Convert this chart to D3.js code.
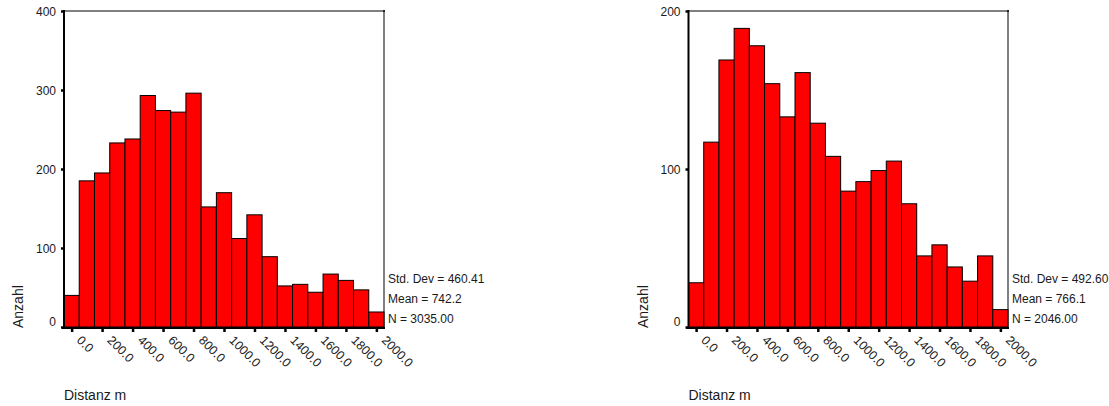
<!DOCTYPE html>
<html>
<head>
<meta charset="utf-8">
<script src="https://cdn.jsdelivr.net/npm/d3@7"></script>
<style>
  html, body { margin: 0; padding: 0; background: #fff; }
  svg { display: block; font-family: "Liberation Sans", Arial, sans-serif; }
</style>
</head>
<body>
<svg id="chart" width="1109" height="406"></svg>
<script>
// Histogram bins: bin centres in metres (bin width 100 m)
const binCenters = [0, 100, 200, 300, 400, 500, 600, 700, 800, 900, 1000,
                    1100, 1200, 1300, 1400, 1500, 1600, 1700, 1800, 1900, 2000];

// Counts per bin
const countsLeft  = [40, 185, 195, 233, 238, 293, 274, 272, 296, 152, 170,
                     112, 142, 89, 52, 54, 44, 67, 59, 47, 19];
const countsRight = [28, 117, 169, 189, 178, 154, 133, 161, 129, 108, 86,
                     92, 99, 105, 78, 45, 52, 38, 29, 45, 11];

// Axis ticks
const xTickValues = [0, 200, 400, 600, 800, 1000, 1200, 1400, 1600, 1800, 2000];
const xTickLabels = ["0.0", "200.0", "400.0", "600.0", "800.0", "1000.0",
                     "1200.0", "1400.0", "1600.0", "1800.0", "2000.0"];
const yTicksLeft  = [0, 100, 200, 300, 400];
const yTicksRight = [0, 100, 200];

// Summary statistics
const statsLeft  = ["Std. Dev = 460.41", "Mean = 742.2", "N = 3035.00"];
const statsRight = ["Std. Dev = 492.60", "Mean = 766.1", "N = 2046.00"];

const yTitle = "Anzahl";
const xTitle = "Distanz m";

const svg = d3.select("#chart");
const binWidth = 100;

function drawHistogram(opts) {
  const { left, right, top, bottom, counts, yTicks, yMax, stats } = opts;
  const g = svg.append("g");

  const x = d3.scaleLinear()
    .domain([binCenters[0] - binWidth / 2, binCenters[binCenters.length - 1] + binWidth / 2])
    .range([left, right]);
  const y = d3.scaleLinear().domain([0, yMax]).range([bottom, top]);

  // Grey frame on top and right
  g.append("path")
    .attr("d", `M${left},${top}H${right}V${bottom}`)
    .attr("fill", "none")
    .attr("stroke", "#808080")
    .attr("stroke-width", 2);
  g.append("rect")
    .attr("x", right - 1).attr("y", top - 1)
    .attr("width", 2).attr("height", 2)
    .attr("fill", "#222");

  // Bars
  g.append("g").selectAll("rect")
    .data(binCenters.map((c, i) => ({ c, v: counts[i] })))
    .join("rect")
    .attr("x", d => x(d.c - binWidth / 2))
    .attr("y", d => y(d.v))
    .attr("width", d => x(d.c + binWidth / 2) - x(d.c - binWidth / 2))
    .attr("height", d => y(0) - y(d.v))
    .attr("fill", "#ff0000")
    .attr("stroke", "#000")
    .attr("stroke-width", 1);

  // Y axis
  const yAxis = g.append("g")
    .attr("transform", `translate(${left},0)`)
    .call(d3.axisLeft(y).tickValues(yTicks).tickFormat(d3.format("d"))
      .tickSize(3).tickSizeOuter(0).tickPadding(5));
  yAxis.select(".domain").attr("stroke", "#000").attr("stroke-width", 2)
    .attr("d", `M0,${top - 1}V${bottom + 1}`);
  yAxis.selectAll(".tick line").attr("stroke", "#000").attr("stroke-width", 2.5);
  yAxis.selectAll(".tick text")
    .attr("font-size", 12)
    .attr("fill", "#1a1a1a")
    .attr("font-family", "Liberation Sans, Arial, sans-serif")
    .attr("dy", d => d === 0 ? "-0.1em" : "0.36em");

  // X axis
  const xAxis = g.append("g")
    .attr("transform", `translate(0,${bottom + 1})`)
    .call(d3.axisBottom(x).tickValues(xTickValues)
      .tickFormat((d, i) => xTickLabels[i])
      .tickSize(3).tickSizeOuter(0));
  xAxis.select(".domain").attr("stroke", "#000").attr("stroke-width", 2)
    .attr("d", `M${left - 2},0H${right + 1}`);
  xAxis.selectAll(".tick line").attr("stroke", "#000").attr("stroke-width", 2.5)
    .attr("y1", 1).attr("y2", 4);
  xAxis.selectAll(".tick text")
    .attr("font-size", 12.5)
    .attr("fill", "#1a1a1a")
    .attr("font-family", "Liberation Sans, Arial, sans-serif")
    .attr("text-anchor", "start")
    .attr("y", 0).attr("dy", 0)
    .attr("transform", "translate(4,13) rotate(45)");

  // Statistics block
  g.append("g").selectAll("text")
    .data(stats)
    .join("text")
    .attr("x", right + 4)
    .attr("y", (d, i) => bottom - 44 + i * 20)
    .attr("font-size", 12)
    .attr("fill", "#1a1a1a")
    .text(d => d);

  // Axis titles
  g.append("text")
    .attr("transform", `translate(${left - 41},${bottom + 1}) rotate(-90)`)
    .attr("font-size", 14)
    .attr("fill", "#1a1a1a")
    .text(yTitle);
  g.append("text")
    .attr("x", left)
    .attr("y", 400)
    .attr("font-size", 14)
    .attr("fill", "#1a1a1a")
    .text(xTitle);
}

drawHistogram({ left: 64, right: 384, top: 11, bottom: 327,
  counts: countsLeft, yTicks: yTicksLeft, yMax: 400, stats: statsLeft });
drawHistogram({ left: 688.5, right: 1008, top: 11, bottom: 327,
  counts: countsRight, yTicks: yTicksRight, yMax: 200, stats: statsRight });
</script>
</body>
</html>
